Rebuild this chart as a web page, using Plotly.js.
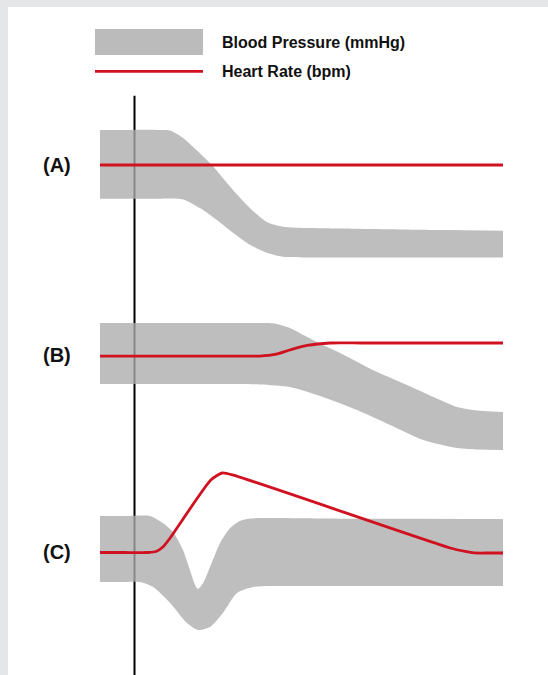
<!DOCTYPE html>
<html>
<head>
<meta charset="utf-8">
<script src="https://cdn.plot.ly/plotly-3.0.1.min.js"></script>
<style>html,body{margin:0;padding:0;background:#e5e6e8;}#chart{width:548px;height:675px;}</style>
</head>
<body>
<div id="chart"></div>
<script>
// Time axis: 0 = start of trace, 100 = end. Level axis: arbitrary units (0..100)
// Panel A
const aUpperT = [0, 8, 14, 17.4, 20.6, 24.8, 27.8, 33.0, 37.2, 41.4, 45.4, 52.1, 63, 74.4, 87, 100];
const aUpperV = [81.6, 81.6, 81.6, 81.5, 80.4, 78.1, 76.3, 72.6, 69.9, 67.8, 67.1, 66.9, 66.8, 66.7, 66.6, 66.5];
const aLowerT = [0, 8, 15, 20.6, 24.8, 29.0, 33.0, 37.2, 41.4, 45.4, 52.1, 65, 80, 100];
const aLowerV = [71.3, 71.3, 71.3, 71.2, 69.9, 68.1, 66.2, 64.4, 63.2, 62.6, 62.5, 62.5, 62.5, 62.5];
const aHrT = [0, 100];
const aHrV = [76.35, 76.35];
// Panel B
const bUpperT = [0, 15, 30, 38, 42.9, 47.1, 51.4, 55.3, 59.6, 67.7, 76.2, 84.4, 88.6, 92.6, 100];
const bUpperV = [52.7, 52.7, 52.7, 52.7, 52.65, 51.95, 50.6, 49.4, 48.2, 45.66, 43.41, 41.17, 40.12, 39.67, 39.37];
const bLowerT = [0, 15, 30, 39.7, 47.1, 55.3, 63.8, 72.0, 80.2, 88.6, 94, 100];
const bLowerV = [43.56, 43.56, 43.56, 43.5, 43.11, 41.62, 39.67, 37.43, 35.18, 33.98, 33.75, 33.68];
const bHrT = [0, 15, 30, 39.7, 43.4, 47.1, 51.4, 57.1, 65, 80, 100];
const bHrV = [47.75, 47.75, 47.75, 47.75, 47.98, 48.65, 49.33, 49.7, 49.7, 49.7, 49.7];
// Panel C
const cUpperT = [0, 6, 12.4, 15.6, 18.1, 20.6, 22.3, 23.6, 24.3, 25.6, 27.3, 29.8, 32.3, 34.7, 37.2, 42.2, 60, 80, 100];
const cUpperV = [23.8, 23.8, 23.8, 22.75, 21.41, 18.71, 15.72, 13.47, 12.87, 13.77, 16.17, 19.76, 22.0, 23.05, 23.43, 23.5, 23.4, 23.4, 23.35];
const cLowerT = [0, 5, 9.9, 13.2, 17.4, 21.6, 24.3, 27.3, 30.5, 34.0, 38.0, 42.2, 60, 80, 100];
const cLowerV = [13.92, 13.92, 13.92, 13.17, 10.78, 7.78, 6.74, 7.19, 9.28, 12.28, 13.17, 13.32, 13.32, 13.32, 13.32];
const cHrT = [0, 6, 12, 13.9, 15.6, 17.4, 27.5, 30.3, 33.3, 86.9, 90.6, 92.8, 96, 100];
const cHrV = [18.34, 18.34, 18.34, 18.49, 19.16, 20.51, 29.19, 30.24, 29.87, 19.01, 18.5, 18.28, 18.26, 18.26];
// Marker line (stimulus time)
const markerT = 8.56;
const markerTop = 86.7;
// Labels
const panelLabels = ['(A)', '(B)', '(C)'];
const panelLevels = [76.35, 47.9, 18.4];
const legendNames = ['Blood Pressure (mmHg)', 'Heart Rate (bpm)'];

const bandFill = 'rgba(172,172,172,0.78)';
const red = '#d0111f';
const traces = [];
function band(lt, lv, ut, uv) {
  traces.push({x: lt, y: lv, mode: 'lines', line: {color: 'rgba(0,0,0,0)', width: 0, shape: 'spline', smoothing: 0.7}, hoverinfo: 'skip', showlegend: false});
  traces.push({x: ut, y: uv, mode: 'lines', fill: 'tonexty', fillcolor: bandFill, line: {color: 'rgba(0,0,0,0)', width: 0, shape: 'spline', smoothing: 0.7}, hoverinfo: 'skip', showlegend: false});
}
band(aLowerT, aLowerV, aUpperT, aUpperV);
band(bLowerT, bLowerV, bUpperT, bUpperV);
band(cLowerT, cLowerV, cUpperT, cUpperV);
[[aHrT, aHrV], [bHrT, bHrV], [cHrT, cHrV]].forEach(([t, v]) => {
  traces.push({x: t, y: v, mode: 'lines', line: {color: red, width: 2.8, shape: 'spline', smoothing: 0.6}, hoverinfo: 'skip', showlegend: false});
});

const font = 'Liberation Sans, Arial, sans-serif';
const annotations = panelLabels.map((s, i) => ({
  x: -10.55, y: panelLevels[i], xref: 'x', yref: 'y', text: s, showarrow: false,
  xanchor: 'center', yanchor: 'middle', font: {family: font, size: 20, color: '#111', weight: 'bold'}
}));
annotations.push({x: 29.7, y: 94.65, xref: 'x', yref: 'y', text: legendNames[0], showarrow: false, xanchor: 'left', yanchor: 'middle',
  font: {family: font, size: 16, color: '#111', weight: 'bold'}});
annotations.push({x: 29.7, y: 90.4, xref: 'x', yref: 'y', text: legendNames[1], showarrow: false, xanchor: 'left', yanchor: 'middle',
  font: {family: font, size: 16, color: '#111', weight: 'bold'}});

const shapes = [
  {type: 'line', xref: 'x', yref: 'y', x0: markerT, x1: markerT, y0: 0, y1: markerTop, line: {color: '#000', width: 2}, layer: 'below'},
  {type: 'rect', xref: 'x', yref: 'y', x0: -1.24, x1: 25.56, y0: 92.8, y1: 96.7, fillcolor: '#bbbbbb', line: {width: 0}, layer: 'below'},
  {type: 'line', xref: 'x', yref: 'y', x0: -1.24, x1: 25.56, y0: 90.37, y1: 90.37, line: {color: red, width: 2.8}}
];

const layout = {
  width: 548, height: 675,
  margin: {l: 8, r: 0, t: 7, b: 0, pad: 0},
  paper_bgcolor: '#e5e6e8', plot_bgcolor: '#ffffff',
  xaxis: {range: [-22.83, 111.17], visible: false, fixedrange: true},
  yaxis: {range: [0, 100], visible: false, fixedrange: true},
  showlegend: false,
  annotations: annotations,
  shapes: shapes
};
Plotly.newPlot('chart', traces, layout, {staticPlot: true, displayModeBar: false});
</script>
</body>
</html>
